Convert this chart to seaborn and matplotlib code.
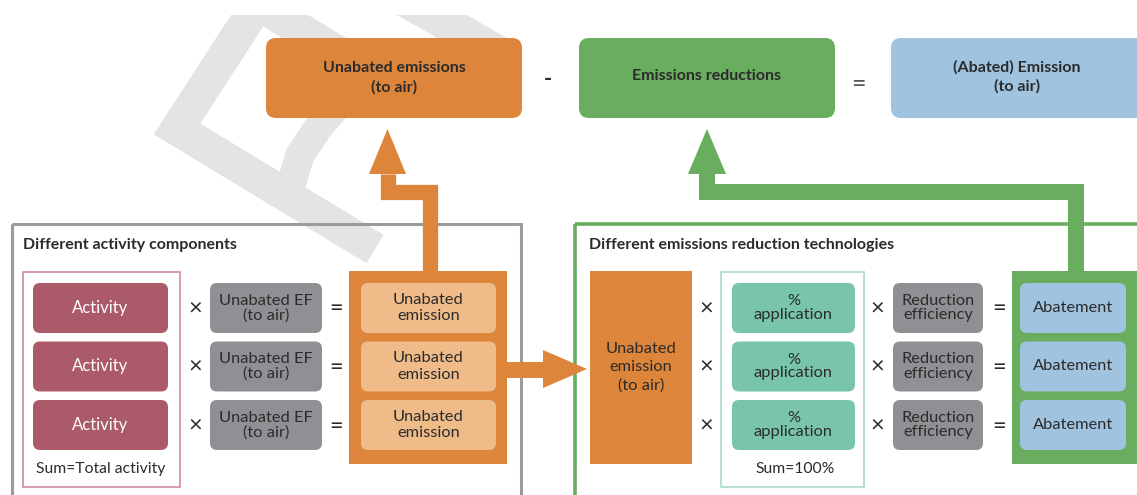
import matplotlib
matplotlib.use("Agg")
import matplotlib.pyplot as plt
from matplotlib.patches import FancyBboxPatch, Rectangle, Polygon
import seaborn as sns

# labels of the diagram
top_labels = ["Unabated emissions\n(to air)", "Emissions reductions", "(Abated) Emission\n(to air)"]
top_ops = ["-", "="]
left_title = "Different activity components"
right_title = "Different emissions reduction technologies"
activity_labels = ["Activity", "Activity", "Activity"]
ef_labels = ["Unabated EF\n(to air)", "Unabated EF\n(to air)", "Unabated EF\n(to air)"]
unabated_labels = ["Unabated\nemission", "Unabated\nemission", "Unabated\nemission"]
source_label = "Unabated\nemission\n(to air)"
application_labels = ["%\napplication", "%\napplication", "%\napplication"]
efficiency_labels = ["Reduction\nefficiency", "Reduction\nefficiency", "Reduction\nefficiency"]
abatement_labels = ["Abatement", "Abatement", "Abatement"]
left_sum = "Sum=Total activity"
right_sum = "Sum=100%"

# colours
orange = "#dd853b"
light_orange = "#efbb89"
green = "#69ad5f"
blue = "#a0c3df"
maroon = "#ab5a69"
grey_box = "#8f9093"
teal = "#79c4ad"
teal_edge = "#a9dccb"
pink_edge = "#cf8b98"
grey_edge = "#9b9b9b"
watermark = "#e4e4e4"
dark = "#2b2b2b"

sns.set_theme(style="white")
plt.rcParams['font.family'] = ['Lato', 'DejaVu Sans']

fig = plt.figure(figsize=(11.37, 4.95), dpi=100)
ax = fig.add_axes([0, 0, 1, 1])
ax.set_xlim(0, 1137)
ax.set_ylim(495, 0)
ax.axis("off")


def box(x0, x1, y0, y1, fc, r=7, text=None, tc=dark, fs=11.5, weight="normal", ls=1.15, z=2):
    p = FancyBboxPatch((x0, y0), x1 - x0, y1 - y0, boxstyle=f"round,pad=0,rounding_size={r}",
                       fc=fc, ec="none", lw=0, zorder=z)
    ax.add_patch(p)
    if text:
        ax.text((x0 + x1) / 2, (y0 + y1) / 2, text, ha="center", va="center", color=tc,
                fontsize=fs, fontweight=weight, linespacing=ls, zorder=z + 2)


def sign(x, y, s):
    ax.text(x, y, s, ha="center", va="center", fontsize=17, color=dark, zorder=4)


# faint watermark letters in the background
ax.plot([400, 258, 177, 375], [90, 4, 129, 249], color=watermark, lw=24, solid_joinstyle="miter",
        solid_capstyle="butt", zorder=0.5)
ax.plot([360, 340, 318, 300, 288], [85, 102, 128, 155, 195], color=watermark, lw=21,
        solid_capstyle="butt", zorder=0.5)
ax.plot([385, 505], [-12, 57], color=watermark, lw=25, solid_capstyle="butt", zorder=0.5)
ax.add_patch(Rectangle((0, -20), 1137, 35, fc="white", ec="none", zorder=0.8))

# top row
box(266, 522, 38, 118, orange, r=10, text=top_labels[0], fs=11.5, weight="bold", ls=1.4)
box(579, 835, 38, 118, green, r=10)
ax.text(707, 76, top_labels[1], ha="center", va="center", fontsize=11.5, fontweight="bold", color=dark, zorder=4)
box(891, 1160, 38, 118, blue, r=10)
ax.text(1017, 77, top_labels[2], ha="center", va="center", fontsize=11.5, fontweight="bold",
        color=dark, linespacing=1.4, zorder=4)
ax.text(548, 80, top_ops[0], ha="center", va="center", fontsize=16, fontweight="bold", color=dark, zorder=4)
ax.text(858, 84, top_ops[1], ha="center", va="center", fontsize=18, color="#555555", zorder=4)

# frames of the two lower panels
ax.add_patch(Rectangle((11.5, 223.5), 509, 300, fc="none", ec=grey_edge, lw=2.2, zorder=1))
ax.add_patch(Rectangle((574.5, 223.5), 600, 300, fc="none", ec=green, lw=2.6, zorder=1))
ax.text(23, 245, left_title, ha="left", va="center", fontsize=11.5, fontweight="bold", color=dark, zorder=4)
ax.text(589, 245, right_title, ha="left", va="center", fontsize=11.5, fontweight="bold", color=dark, zorder=4)

row_tops = [283, 341.5, 400]
row_h = 50

# left panel
ax.add_patch(Rectangle((23, 272), 157, 215, fc="none", ec=pink_edge, lw=1.2, zorder=1.5))
box(349, 507, 271, 464, orange, r=0, z=1.8)
for i, y in enumerate(row_tops):
    box(33, 168, y, y + row_h, maroon, text=activity_labels[i], tc="white", fs=12)
    sign(195, y + 26, "\u00d7")
    box(210, 322, y, y + row_h, grey_box, text=ef_labels[i], fs=11.8, ls=1.05)
    sign(336, y + 26, "=")
    box(361, 496, y, y + row_h, light_orange, text=unabated_labels[i], fs=11.8, ls=1.2)
ax.text(101, 469, left_sum, ha="center", va="center", fontsize=11.3, color=dark, zorder=4)

# right panel
box(590, 692, 271, 464, orange, r=0, text=source_label, fs=11.8, ls=1.4, z=1.8)
ax.add_patch(Rectangle((721, 272), 143, 215, fc="none", ec=teal_edge, lw=1.2, zorder=1.5))
box(1012, 1150, 271, 464, green, r=0, z=1.8)
for i, y in enumerate(row_tops):
    sign(706, y + 26, "\u00d7")
    box(732, 855, y, y + row_h, teal, text=application_labels[i], fs=11.8, ls=1.0)
    sign(877, y + 26, "\u00d7")
    box(893, 983, y, y + row_h, grey_box, text=efficiency_labels[i], fs=11.8, ls=1.05)
    sign(999, y + 26, "=")
    box(1020, 1126, y, y + row_h, blue, text=abatement_labels[i], fs=11.8)
ax.text(795, 469, right_sum, ha="center", va="center", fontsize=11.3, color=dark, zorder=4)

# arrows
ax.plot([430, 430, 388, 388], [272, 192, 192, 174], color=orange, lw=11, solid_joinstyle="miter",
        solid_capstyle="butt", zorder=3)
ax.add_patch(Polygon([(369, 174), (406, 174), (387.5, 129)], fc=orange, ec="none", zorder=3))
ax.plot([1075.5, 1075.5, 707, 707], [272, 192, 192, 174], color=green, lw=11.5, solid_joinstyle="miter",
        solid_capstyle="butt", zorder=3)
ax.add_patch(Polygon([(688, 174), (726, 174), (707, 129)], fc=green, ec="none", zorder=3))
ax.plot([505, 545], [370, 370], color=orange, lw=11.5, solid_capstyle="butt", zorder=3)
ax.add_patch(Polygon([(543, 350), (543, 388), (587, 369)], fc=orange, ec="none", zorder=3))

fig.savefig("out.png", dpi=100)
